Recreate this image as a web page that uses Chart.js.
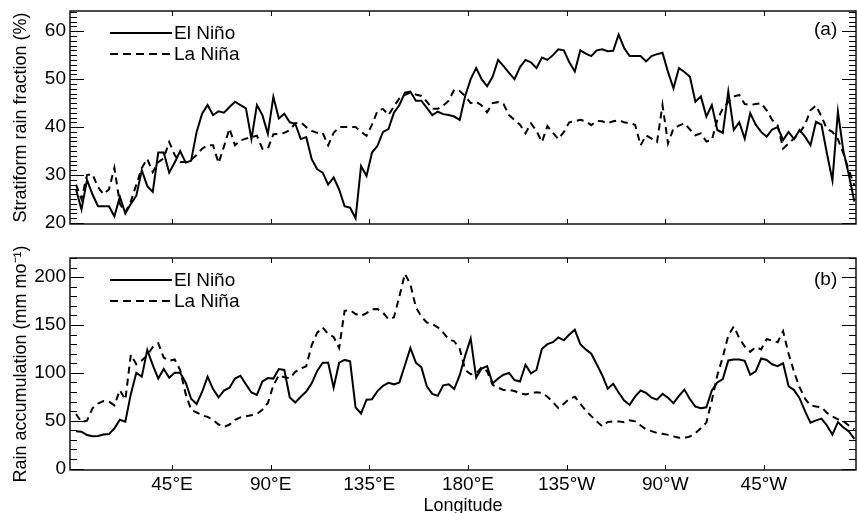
<!DOCTYPE html>
<html>
<head>
<meta charset="utf-8">
<script src="https://cdn.jsdelivr.net/npm/chart.js@4/dist/chart.umd.min.js"></script>
<style>
  html, body { margin: 0; padding: 0; background: #fff; }
  body { width: 857px; height: 513px; overflow: hidden; position: relative; }
  canvas { position: absolute; left: 0; }
  #top { top: 0; }
  #bot { top: 240px; }
</style>
</head>
<body>
<canvas id="top" width="857" height="240"></canvas>
<canvas id="bot" width="857" height="280"></canvas>
<script>
// longitude (deg east, 0-360), 2.5 deg bins
var lon = [1.25,3.75,6.25,8.75,11.25,13.75,16.25,18.75,21.25,23.75,
  26.25,28.75,31.25,33.75,36.25,38.75,41.25,43.75,46.25,48.75,
  51.25,53.75,56.25,58.75,61.25,63.75,66.25,68.75,71.25,73.75,
  76.25,78.75,81.25,83.75,86.25,88.75,91.25,93.75,96.25,98.75,
  101.25,103.75,106.25,108.75,111.25,113.75,116.25,118.75,121.25,123.75,
  126.25,128.75,131.25,133.75,136.25,138.75,141.25,143.75,146.25,148.75,
  151.25,153.75,156.25,158.75,161.25,163.75,166.25,168.75,171.25,173.75,
  176.25,178.75,181.25,183.75,186.25,188.75,191.25,193.75,196.25,198.75,
  201.25,203.75,206.25,208.75,211.25,213.75,216.25,218.75,221.25,223.75,
  226.25,228.75,231.25,233.75,236.25,238.75,241.25,243.75,246.25,248.75,
  251.25,253.75,256.25,258.75,261.25,263.75,266.25,268.75,271.25,273.75,
  276.25,278.75,281.25,283.75,286.25,288.75,291.25,293.75,296.25,298.75,
  301.25,303.75,306.25,308.75,311.25,313.75,316.25,318.75,321.25,323.75,
  326.25,328.75,331.25,333.75,336.25,338.75,341.25,343.75,346.25,348.75,
  351.25,353.75,356.25];

// (a) stratiform rain fraction (%)
var fracElNino = [27,22.8,29,26,23.5,23.5,23.5,21.4,25.5,22,
  24,25.7,31,27.7,26.5,34.7,34.7,30.5,32.6,35,
  32.6,33,39,42.8,44.6,42.5,43.3,43,44.2,45.3,
  44.6,43.9,37.5,44.6,42.5,38.6,46.3,41.8,42.8,41,
  40.7,37.5,37.9,33.3,31.2,30.5,28,29.5,27,23.5,
  23.2,21,31.9,29.8,34.7,36.1,39,39.6,43,44.6,
  47.2,47.4,45.5,45.5,44,42.5,43.2,42.7,42.5,42.2,
  41.5,46.5,50,52.3,50,48.5,50.5,54,52.7,51.3,
  50,52.5,54,53.5,52.3,54.5,54,55,56.2,56,
  53.5,51.6,56,55.3,54.8,56,56.2,55.8,55.9,59.3,
  56.5,54.8,54.8,54.8,53.7,54.8,55.2,55.5,51.5,48.1,
  52.3,51.5,50.5,45.3,46.4,42.2,44.6,39.4,38.8,47.4,
  39.4,41,37.6,42.9,40.5,39,38,39.5,40,37.3,
  39,37.5,39.4,38,36.2,41.1,40.5,34.5,28.9,43.2,
  35,30,24.5];
var fracLaNina = [28,25,30,30.2,27.5,26,27,31.5,24,22.2,
  24.5,28,31.5,33.4,30.6,32.7,33.5,36.9,34.2,32.7,
  32.7,33.2,34.2,35.5,36.2,36.2,32.5,36,39.7,36.2,
  37.2,37.6,37.9,38.2,35.5,35.5,38.5,38.6,38.8,39.4,
  40.8,41,40,39.2,38.8,38.8,36.2,38.8,40,40,
  40,40,39,38.2,40.5,43.4,43.8,42.5,44.3,46,
  46.7,47.2,46.8,46.5,45.3,43.8,43.8,44.5,45.5,47.8,
  47.5,46.5,45,45.3,44.5,43.1,45,45.2,44.8,42.5,
  41.5,40.5,38.7,40.8,39.2,36.9,40.2,38.8,37.5,39,
  41,41.2,41.5,41.2,40.4,41.3,41.2,40.8,41.2,41.4,
  41,40.8,40.5,36.2,38.3,37.6,36.9,44.6,36.6,39.7,
  40.3,40.8,39.5,38.3,38.7,37,37.3,41.5,43.9,45.2,
  46.4,46.7,44.8,44.6,44.8,45,43.5,41.5,40.4,35.5,
  36.6,37.6,38.8,40.5,43.5,44.5,42.2,39.6,39,37.5,
  34.5,31,27.8];

// (b) rain accumulation (mm/month)
var accElNino = [39,38.5,35,33.7,34,35.5,36,42,51,49,
  78,100,96,124,108,94,104,95,100,100,
  90,73,67.5,80,96,83,74.5,81.5,84.5,94,
  97,88,79.5,77,91,94.5,94,104,103,74.2,
  69,75,80.5,89,102,110.6,110.6,84.6,110.6,113.5,
  112,64,57.5,72,72.5,81,86.5,89.5,88,90,
  108,126,110.6,106,86,78,76,87,88,83,
  97.6,118,136,95,104.5,107,89,94.1,98,100,
  92.5,91,108.5,99.5,103,125.2,130,132,137,134,
  140,145,130,124.5,120,109,97.5,83.5,88.5,79.5,
  71,66.5,75.2,81.5,79,74,72,78,74,68.3,
  76,82.5,72.5,64.8,63,64,81.5,90,93.5,113,
  114,114,112.5,98,101.5,115,113.5,109,107,110,
  86,82,73.5,60,48,50.3,52.2,45,35.5,48.5,
  43,38.7,31];
var accLaNina = [57,48.5,50,63,68,70.5,70,66,82,72,
  119,109,113,118.4,127,131,116,112.5,114,103,
  78,61.3,58.6,55.6,54,51,46,43.5,46,51,
  53.5,54.6,55.8,57,61.5,68.5,87,97.5,95.5,94.4,
  101,104.5,107,129,142,147.5,140.5,137.5,126,164.8,
  165.5,161.5,159.5,162.4,166.5,166.7,163,156,158,180,
  203.5,192.5,168.5,158.8,152.6,151,147.5,142,135,133,
  125,103,98.6,99.5,106,101.7,87.5,84.7,82,82,
  81,78.6,77.5,78.8,79.7,79.2,75,69.5,63.1,67.7,
  72.8,75,67.8,60.7,54.8,49.3,44.2,48.7,49.3,49.3,
  48.5,50.5,49.3,45,41,39.1,37.2,36.3,35.2,33.6,
  32.1,32.1,33.5,37,42,48,71,97.5,116.5,139,
  148.5,136.5,127.5,122,127,124.5,135.3,133.8,132,143.5,
  120,101,85,73,66,64.8,64.2,58.2,54.5,51.5,
  49.5,45,41];

var lonTicks = [45, 90, 135, 180, 225, 270, 315];
var lonLabels = ['45°E', '90°E', '135°E', '180°E', '135°W', '90°W', '45°W'];
var fracTicks = [20, 30, 40, 50, 60];
var accTicks = [0, 50, 100, 150, 200];

var FONT = '"Liberation Sans", Arial, Helvetica, sans-serif';
Chart.defaults.font.family = FONT;
Chart.defaults.color = '#000';

function pts(ys) {
  return lon.map(function(x, i) { return {x: x, y: ys[i]}; });
}

// frame, inward ticks, legend and panel label
var panelDecor = {
  id: 'panelDecor',
  afterDraw: function(chart, args, o) {
    var ctx = chart.ctx, a = chart.chartArea;
    var x = chart.scales.x, y = chart.scales.y;
    ctx.save();
    ctx.strokeStyle = '#000';
    ctx.lineWidth = 1;
    ctx.beginPath();
    var k0 = Math.ceil(y.min / o.minor), k1 = Math.floor(y.max / o.minor);
    for (var k = k0; k <= k1; k++) {
      var v = k * o.minor;
      var len = (v % o.major === 0) ? 14 : 7;
      var py = Math.round(y.getPixelForValue(v)) + 0.5;
      ctx.moveTo(a.left, py); ctx.lineTo(a.left + len, py);
      ctx.moveTo(a.right, py); ctx.lineTo(a.right - len, py);
    }
    lonTicks.forEach(function(d) {
      var px = Math.round(x.getPixelForValue(d)) + 0.5;
      ctx.moveTo(px, a.top); ctx.lineTo(px, a.top + 5);
      ctx.moveTo(px, a.bottom); ctx.lineTo(px, a.bottom - 5);
    });
    ctx.stroke();

    ctx.lineWidth = 1.4;
    ctx.strokeRect(a.left, a.top, a.right - a.left, a.bottom - a.top);

    // legend
    ctx.lineWidth = 2;
    ctx.font = '19px ' + FONT;
    ctx.fillStyle = '#000';
    ctx.textBaseline = 'middle';
    ctx.textAlign = 'left';
    var names = ['El Niño', 'La Niña'];
    for (var j = 0; j < 2; j++) {
      var ly = o.legendY[j];
      ctx.setLineDash(j === 0 ? [] : [8, 5]);
      ctx.beginPath();
      ctx.moveTo(110, ly); ctx.lineTo(172, ly);
      ctx.stroke();
      ctx.fillText(names[j], 174, ly + 1);
    }
    ctx.setLineDash([]);
    ctx.fillText(o.label, 814, o.labelY);
    ctx.restore();
  }
};

function makeChart(id, elData, laData, yMin, yMax, yTicks, yTitle, decor, bottom) {
  var xScale = {
    type: 'linear', min: -1.5, max: 357,
    display: bottom,
    grid: {display: false, drawTicks: false},
    border: {display: false},
    afterBuildTicks: function(s) { s.ticks = lonTicks.map(function(v) { return {value: v}; }); },
    ticks: {
      autoSkip: false, maxRotation: 0, padding: 3,
      font: {size: 19},
      callback: function(v) { return lonLabels[lonTicks.indexOf(v)]; }
    },
    title: {display: bottom, text: 'Longitude', font: {size: 18}, padding: {top: 0, bottom: 3}},
    afterFit: function(s) {
      s.height = bottom ? 50 : 0;
      s.paddingLeft = 0; s.paddingRight = 0;
    }
  };
  return new Chart(document.getElementById(id), {
    type: 'line',
    data: {
      datasets: [
        {label: 'El Niño', data: pts(elData), borderColor: '#000', borderWidth: 2,
         pointRadius: 0, tension: 0, fill: false},
        {label: 'La Niña', data: pts(laData), borderColor: '#000', borderWidth: 2,
         borderDash: [7, 5], pointRadius: 0, tension: 0, fill: false}
      ]
    },
    options: {
      responsive: false,
      animation: false,
      devicePixelRatio: 1,
      layout: {padding: {top: decor.padTop, right: 1, left: 0, bottom: bottom ? 0 : 16}},
      plugins: {legend: {display: false}, tooltip: {enabled: false}, panelDecor: decor},
      scales: {
        x: xScale,
        y: {
          min: yMin, max: yMax,
          grid: {display: false, drawTicks: false},
          border: {display: false},
          afterBuildTicks: function(s) { s.ticks = yTicks.map(function(v) { return {value: v}; }); },
          ticks: {padding: 4, font: {size: 19}},
          title: {display: true, text: yTitle, font: {size: 18}, padding: {top: 10, bottom: 0}},
          afterFit: function(s) {
            s.width = 70;
            s.paddingTop = 0; s.paddingBottom = 0;
          }
        }
      }
    },
    plugins: [panelDecor]
  });
}

makeChart('top', fracElNino, fracLaNina, 19.8, 64.2, fracTicks,
  'Stratiform rain fraction (%)',
  {padTop: 11, minor: 1, major: 10, legendY: [33, 54], label: '(a)', labelY: 30}, false);

makeChart('bot', accElNino, accLaNina, -1.5, 220, accTicks,
  'Rain accumulation (mm mo\u207B\u00B9)',
  {padTop: 18, minor: 10, major: 50, legendY: [40, 61], label: '(b)', labelY: 40}, true);
</script>
</body>
</html>
